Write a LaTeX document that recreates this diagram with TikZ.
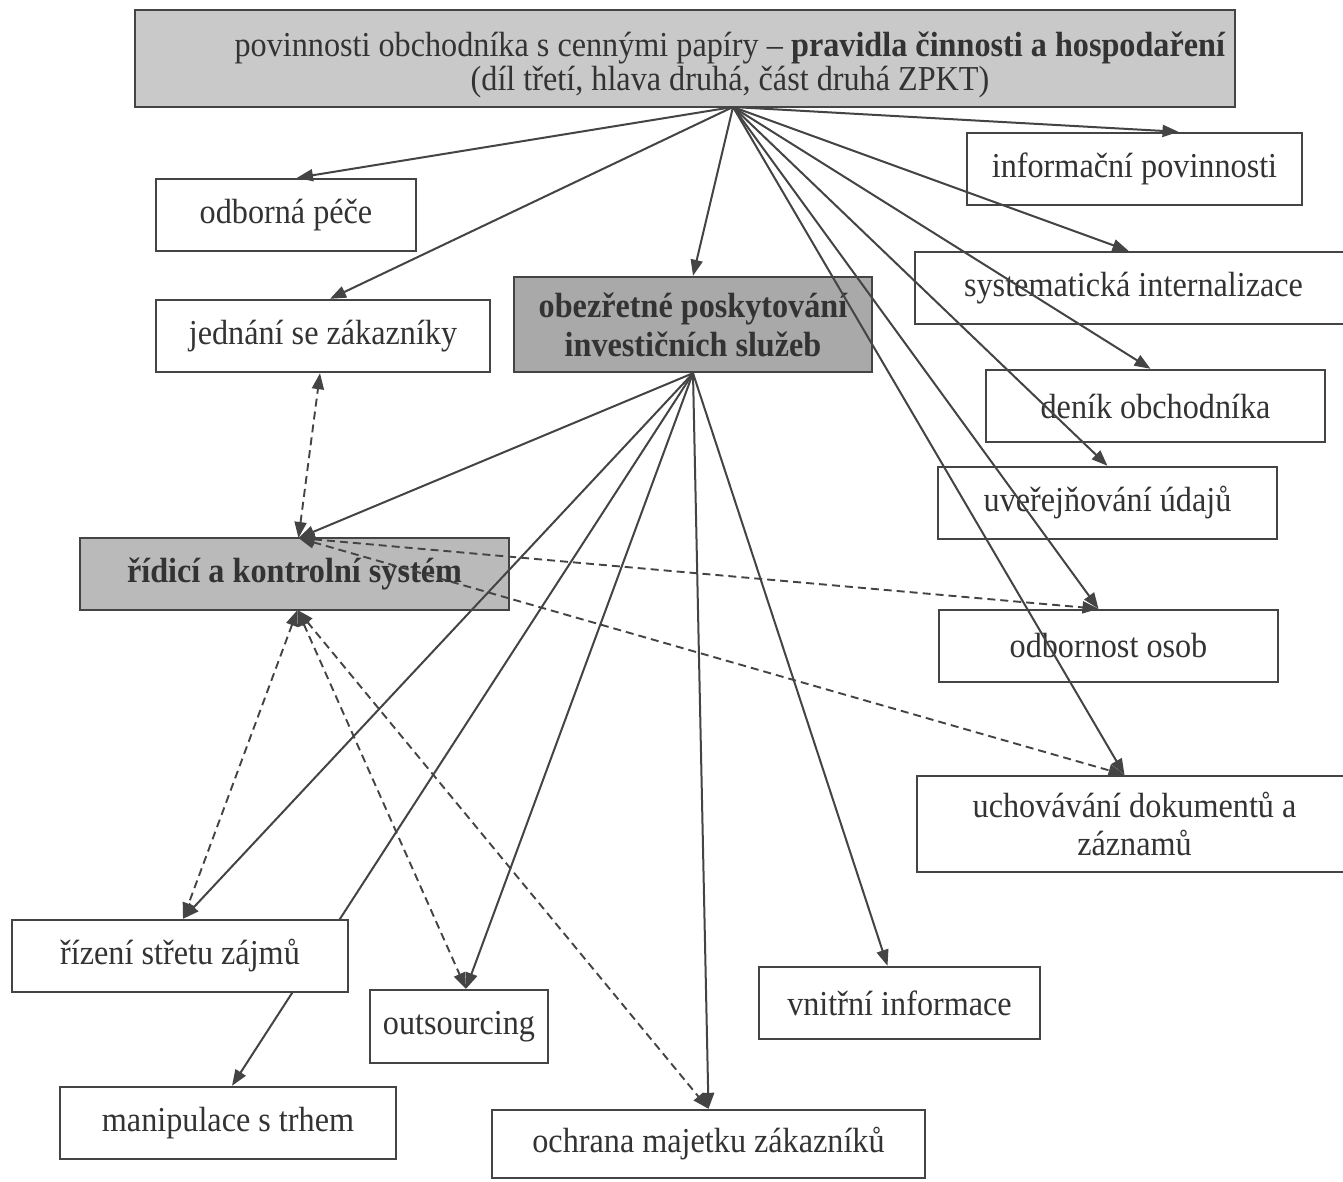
\documentclass[tikz,border=0pt]{standalone}
\usepackage{fontspec}
\setmainfont{Liberation Serif}[FakeStretch=0.92]
\usetikzlibrary{arrows.meta}
\pgfdeclarelayer{bg}
\pgfsetlayers{bg,main}
\definecolor{ink}{HTML}{333333}
\definecolor{edge}{HTML}{444444}
\definecolor{fillA}{HTML}{C9C9C9}
\definecolor{fillB}{HTML}{A9A9A9}
\definecolor{fillC}{HTML}{BABABA}
\begin{document}
\begin{tikzpicture}[x=1pt,y=-1pt,
  box/.style={draw=edge,line width=2.4pt,fill=white,text=ink,inner sep=0pt,align=center,
              font=\fontsize{35}{38}\selectfont},
  conn/.style={draw=edge,line width=2pt,-{Triangle[length=16pt,width=12pt]}},
  dconn/.style={draw=edge,line width=1.9pt,dash pattern=on 8pt off 5pt,
                {Triangle[length=16pt,width=12pt]}-{Triangle[length=16pt,width=12pt]}}]
\begin{pgfonlayer}{bg}
\fill[white] (0,0) rectangle (1343,1181);
\end{pgfonlayer}
\useasboundingbox (0,0) rectangle (1343,1181);

% nodes
\node[box,fill=fillA,minimum width=1100,minimum height=97] (top) at (685,58.5) {};
\node[text=ink,align=center,inner sep=0pt,font=\fontsize{35}{34}\selectfont] (toptext) at (730,65)
  {povinnosti obchodníka s cennými papíry – \textbf{pravidla činnosti a hospodaření}\\(díl třetí, hlava druhá, část druhá ZPKT)};
\node[box,minimum width=260,minimum height=72] (odb) at (286,215) {odborná péče};
\node[box,minimum width=334,minimum height=72] (jed) at (323,336) {jednání se zákazníky};
\node[box,fill=fillB,minimum width=358,minimum height=95,font=\fontsize{35}{39}\selectfont\bfseries] (obe) at (693,324.5)
  {obezřetné poskytování\\investičních služeb};
\node[box,minimum width=335,minimum height=72] (inf) at (1134.5,169) {informační povinnosti};
\node[box,minimum width=437,minimum height=72] (sys) at (1133.5,288) {systematická internalizace};
\node[box,minimum width=339,minimum height=72] (dek) at (1155.5,406) {deník obchodníka};
\node[box,minimum width=339,minimum height=72] (uve) at (1107.5,503) {uveřejňování údajů};
\node[box,minimum width=339,minimum height=72] (odo) at (1108.5,646) {odbornost osob};
\node[box,minimum width=435,minimum height=96] (uch) at (1134.5,824) {uchovávání dokumentů a\\záznamů};
\node[box,fill=fillC,minimum width=429,minimum height=72,font=\fontsize{35}{38}\selectfont\bfseries] (rid) at (294.5,574) {řídicí a kontrolní systém};
\node[box,minimum width=336,minimum height=72] (riz) at (180,956) {řízení střetu zájmů};
\node[box,minimum width=178,minimum height=73] (out) at (459,1026.5) {outsourcing};
\node[box,minimum width=281,minimum height=72] (vni) at (899.5,1003) {vnitřní informace};
\node[box,minimum width=336,minimum height=72] (man) at (228,1123) {manipulace s trhem};
\node[box,minimum width=433,minimum height=68] (och) at (708.5,1144) {ochrana majetku zákazníků};

\coordinate (hubA) at (733,107);
\coordinate (ridT) at (298.5,538);
\coordinate (ridB) at (297.5,610);

% connectors from the top box
\draw[conn] (hubA) -- ([xshift=11pt]odb.north);
\draw[conn] (hubA) -- ([xshift=7pt]jed.north);
\draw[conn] (hubA) -- (obe.north);
\draw[conn] (hubA) -- ([xshift=44pt]inf.north);
\draw[conn] (hubA) -- ([xshift=-5pt]sys.north);
\draw[conn] (hubA) -- ([xshift=-5pt]dek.north);
\draw[conn] (hubA) -- (uve.north);
\draw[conn] (hubA) -- ([xshift=-10pt]odo.north);
\draw[conn] (hubA) -- ([xshift=-10pt]uch.north);

% connectors from obezřetné poskytování
\draw[conn] (obe.south) -- (ridT);
\draw[conn] (obe.south) -- ([xshift=3pt]riz.north);
\begin{pgfonlayer}{bg}
\draw[conn] (obe.south) -- ([xshift=4pt]man.north);
\end{pgfonlayer}
\draw[conn] (obe.south) -- ([xshift=7pt]out.north);
\draw[conn] (obe.south) -- (och.north);
\draw[conn] (obe.south) -- ([xshift=-12pt]vni.north);

% dashed links of řídicí a kontrolní systém
\draw[dconn] (ridT) -- ([xshift=-3pt]jed.south);
\draw[dconn] (ridT) -- ([xshift=-10pt]odo.north);
\draw[dconn] (ridT) -- ([xshift=-10pt]uch.north);
\draw[dconn] (ridB) -- ([xshift=3pt]riz.north);
\draw[dconn] (ridB) -- ([xshift=7pt]out.north);
\draw[dconn] (ridB) -- (och.north);
\end{tikzpicture}
\end{document}
